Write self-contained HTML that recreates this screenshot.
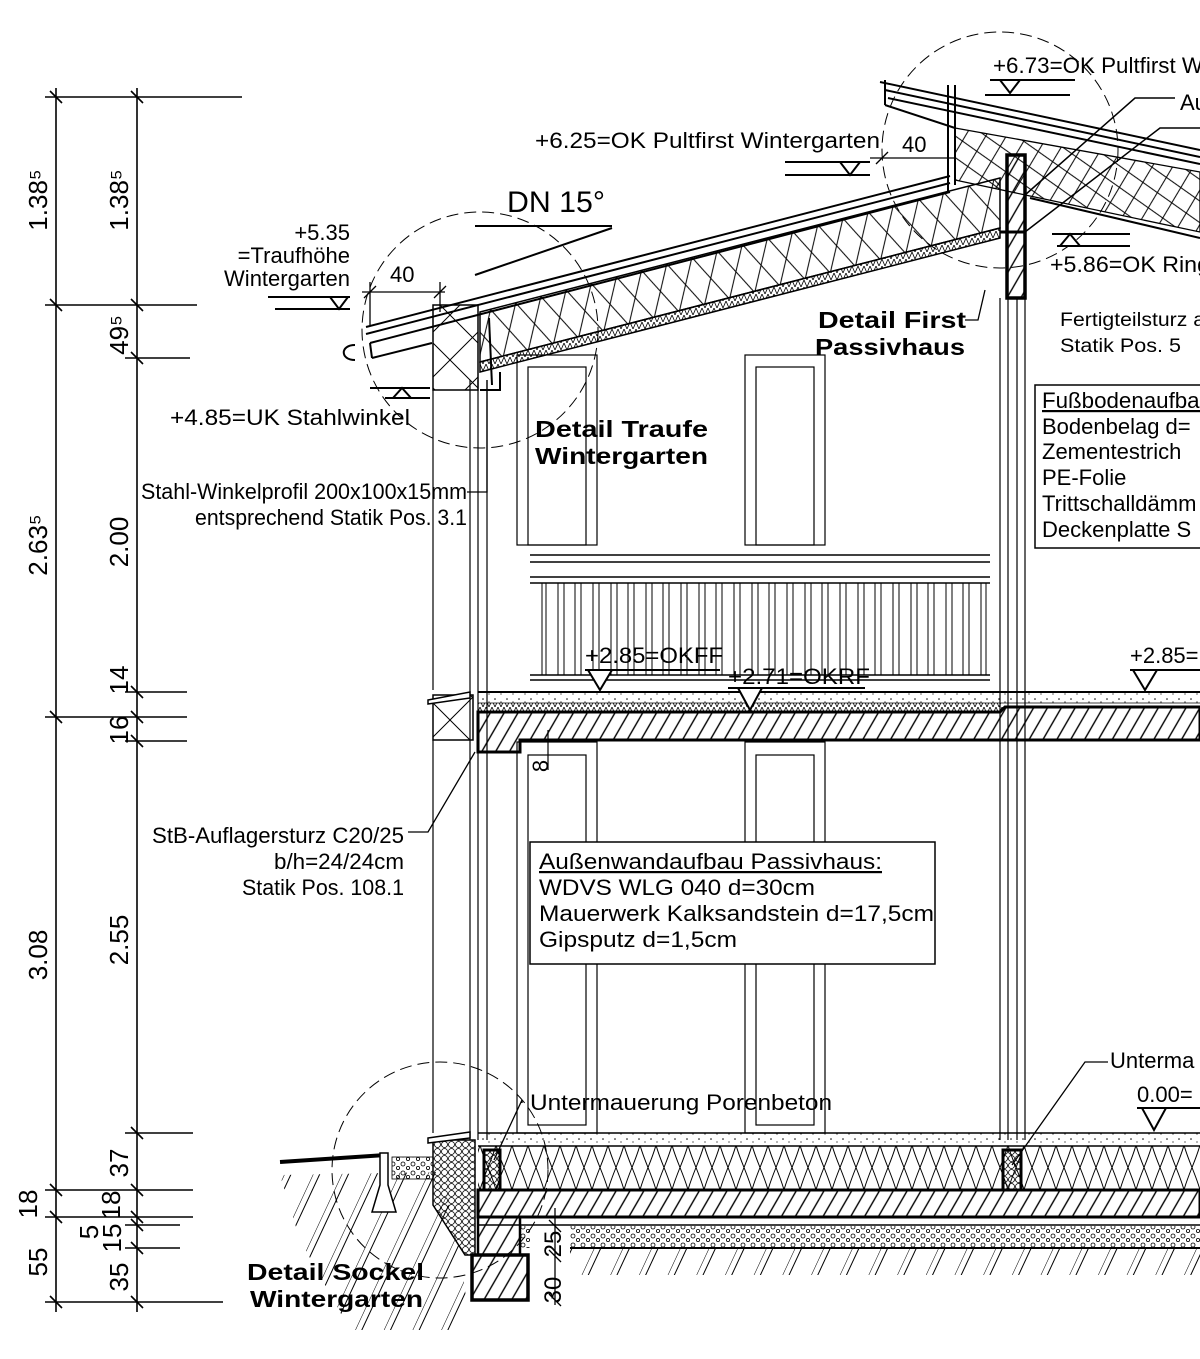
<!DOCTYPE html>
<html><head><meta charset="utf-8"><style>
html,body{margin:0;padding:0;background:#fff}
svg{display:block}
text{font-family:"Liberation Sans",sans-serif;fill:#000}
.n{font-family:"Liberation Sans Narrow","Liberation Sans",sans-serif}
.b{font-weight:bold}
</style></head><body>
<svg width="1200" height="1359" viewBox="0 0 1200 1359" xmlns="http://www.w3.org/2000/svg">
<defs>
<pattern id="hatch" width="12" height="12" patternUnits="userSpaceOnUse" patternTransform="rotate(30)">
<line x1="1" y1="0" x2="1" y2="12" stroke="#000" stroke-width="1.4"/></pattern>
<pattern id="ins" width="26" height="50" patternUnits="userSpaceOnUse" patternTransform="translate(0,178) rotate(-14.5)">
<path d="M0,0 C6,12 20,38 26,50 M26,0 C20,12 6,38 0,50" stroke="#000" stroke-width="1" fill="none"/></pattern>
<pattern id="ins2" width="24" height="26" patternUnits="userSpaceOnUse" patternTransform="rotate(-12)">
<path d="M0,0 L24,26 M24,0 L0,26" stroke="#000" stroke-width="1" fill="none"/></pattern>
<pattern id="insG" x="0" y="1145" width="16" height="45" patternUnits="userSpaceOnUse">
<path d="M0,0 C4,15 12,30 16,45 M16,0 C12,15 4,30 0,45" stroke="#000" stroke-width="1" fill="none"/></pattern>
<pattern id="insX" width="45" height="45" patternUnits="userSpaceOnUse">
<path d="M0,0 L45,45 M45,0 L0,45" stroke="#000" stroke-width="1" fill="none"/></pattern>
<pattern id="dots" width="12" height="8" patternUnits="userSpaceOnUse">
<circle cx="3" cy="3" r="0.8" fill="#000"/><circle cx="9" cy="6" r="0.6" fill="#000"/></pattern>
<pattern id="grav" width="10" height="9" patternUnits="userSpaceOnUse">
<circle cx="3" cy="3" r="2" fill="none" stroke="#000" stroke-width="0.8"/><circle cx="8" cy="7" r="1.6" fill="none" stroke="#000" stroke-width="0.8"/></pattern>
<pattern id="hex" width="7" height="7" patternUnits="userSpaceOnUse">
<circle cx="3.5" cy="3.5" r="3" fill="none" stroke="#000" stroke-width="0.8"/></pattern>
<pattern id="zig" width="6" height="7" patternUnits="userSpaceOnUse">
<path d="M0,0 L3,7 L6,0" stroke="#000" stroke-width="0.8" fill="none"/></pattern>
<pattern id="earth" width="26" height="26" patternUnits="userSpaceOnUse" patternTransform="rotate(25)">
<line x1="0" y1="0" x2="0" y2="26" stroke="#000" stroke-width="1"/><line x1="6" y1="0" x2="6" y2="26" stroke="#000" stroke-width="1"/></pattern>
</defs>

<!-- Left dimension chains -->
<g stroke="#000" stroke-width="1.6" fill="none">
<line x1="56" y1="88" x2="56" y2="1312"/><line x1="137" y1="88" x2="137" y2="1312"/>
<line x1="45" y1="97" x2="242" y2="97"/>
<line x1="45" y1="305" x2="197" y2="305"/>
<line x1="125" y1="358" x2="190" y2="358"/>
<line x1="125" y1="692" x2="187" y2="692"/>
<line x1="45" y1="717" x2="187" y2="717"/>
<line x1="125" y1="741" x2="187" y2="741"/>
<line x1="125" y1="1133" x2="193" y2="1133"/>
<line x1="45" y1="1190" x2="193" y2="1190"/>
<line x1="45" y1="1217" x2="193" y2="1217"/>
<line x1="125" y1="1225" x2="180" y2="1225"/>
<line x1="125" y1="1248" x2="180" y2="1248"/>
<line x1="45" y1="1302" x2="223" y2="1302"/>
</g>
<g stroke="#000" stroke-width="1.6">
<path d="M50,91 l12,12 M131,91 l12,12 M50,299 l12,12 M131,299 l12,12 M131,352 l12,12 M131,686 l12,12 M50,711 l12,12 M131,711 l12,12 M131,735 l12,12 M131,1127 l12,12 M50,1184 l12,12 M131,1184 l12,12 M50,1211 l12,12 M131,1211 l12,12 M131,1219 l12,12 M131,1242 l12,12 M50,1296 l12,12 M131,1296 l12,12"/>
</g>
<g class="n" font-size="26">
<text transform="translate(47,200) rotate(-90)" text-anchor="middle">1.38⁵</text>
<text transform="translate(128,200) rotate(-90)" text-anchor="middle">1.38⁵</text>
<text transform="translate(128,335) rotate(-90)" text-anchor="middle">49⁵</text>
<text transform="translate(47,545) rotate(-90)" text-anchor="middle">2.63⁵</text>
<text transform="translate(128,542) rotate(-90)" text-anchor="middle">2.00</text>
<text transform="translate(128,680) rotate(-90)" text-anchor="middle">14</text>
<text transform="translate(128,730) rotate(-90)" text-anchor="middle">16</text>
<text transform="translate(47,955) rotate(-90)" text-anchor="middle">3.08</text>
<text transform="translate(128,940) rotate(-90)" text-anchor="middle">2.55</text>
<text transform="translate(128,1163) rotate(-90)" text-anchor="middle">37</text>
<text transform="translate(37,1204) rotate(-90)" text-anchor="middle">18</text>
<text transform="translate(120,1205) rotate(-90)" text-anchor="middle">18</text>
<text transform="translate(98,1232) rotate(-90)" text-anchor="middle">5</text>
<text transform="translate(121,1238) rotate(-90)" text-anchor="middle">15</text>
<text transform="translate(47,1262) rotate(-90)" text-anchor="middle">55</text>
<text transform="translate(128,1277) rotate(-90)" text-anchor="middle">35</text>
</g>

<!-- Dashed detail circles -->
<g stroke="#000" stroke-width="1" fill="none" stroke-dasharray="12,6">
<circle cx="480" cy="330" r="118"/>
<circle cx="1000" cy="150" r="118"/>
<circle cx="440" cy="1170" r="108"/>
</g>

<!-- Wintergarten wall posts -->
<g stroke="#000" stroke-width="1.2" fill="none">
<line x1="433" y1="390" x2="433" y2="690"/>
<line x1="433" y1="740" x2="433" y2="1133"/>
<line x1="470" y1="380" x2="470" y2="1140"/>
<line x1="478" y1="380" x2="478" y2="1140"/>
<line x1="487" y1="380" x2="487" y2="1140"/>
<line x1="1000" y1="298" x2="1000" y2="1140"/>
<line x1="1008" y1="298" x2="1008" y2="1140"/>
<line x1="1017" y1="298" x2="1017" y2="1140"/>
<line x1="1025" y1="298" x2="1025" y2="1140"/>
</g>
<rect x="433" y="305" width="45" height="85" fill="url(#insX)" stroke="#000" stroke-width="1.5"/>
<rect x="433" y="695" width="40" height="45" fill="url(#insX)" stroke="#000" stroke-width="1.5"/>
<path d="M428,700 L470,692 L470,698 L428,704 Z" fill="#fff" stroke="#000" stroke-width="1.5"/>

<!-- Windows -->
<g stroke="#000" stroke-width="1.2" fill="none">
<rect x="517" y="355" width="80" height="190"/><rect x="528" y="367" width="58" height="178"/>
<rect x="745" y="355" width="80" height="190"/><rect x="756" y="367" width="58" height="178"/>
<rect x="517" y="742" width="80" height="391"/><rect x="528" y="755" width="58" height="370"/>
<rect x="745" y="742" width="80" height="391"/><rect x="756" y="755" width="58" height="370"/>
</g>
<!-- Railing -->
<rect x="512" y="548" width="480" height="130" fill="#fff"/>
<g stroke="#000" stroke-width="1.4">
<line x1="530" y1="555" x2="990" y2="555"/><line x1="530" y1="562" x2="990" y2="562"/>
<line x1="530" y1="577" x2="990" y2="577"/><line x1="530" y1="583" x2="990" y2="583"/>
<line x1="530" y1="675" x2="990" y2="675"/><line x1="530" y1="680" x2="990" y2="680"/>
</g>
<g stroke="#000" stroke-width="1">
<path d="M542,583v92M546,583v92M558,583v92M564,583v92M575,583v92M581,583v92M593,583v92M599,583v92M611,583v92M617,583v92M628,583v92M634,583v92M646,583v92M652,583v92M663,583v92M669,583v92M681,583v92M687,583v92M699,583v92M705,583v92M716,583v92M722,583v92M734,583v92M740,583v92M752,583v92M758,583v92M769,583v92M775,583v92M787,583v92M793,583v92M805,583v92M811,583v92M822,583v92M828,583v92M840,583v92M846,583v92M858,583v92M864,583v92M875,583v92M881,583v92M893,583v92M899,583v92M911,583v92M917,583v92M928,583v92M934,583v92M946,583v92M952,583v92M963,583v92M969,583v92M981,583v92M986,583v92"/>
</g>

<!-- Upper floor slab -->
<rect x="478" y="692" width="722" height="11" fill="url(#dots)"/>
<rect x="478" y="703" width="525" height="8" fill="url(#zig)"/>
<path d="M478,712 L1000,712 L1005,707 L1200,707 L1200,740 L520,740 L520,752 L478,752 Z" fill="url(#hatch)" stroke="#000" stroke-width="3"/>
<line x1="478" y1="692" x2="1200" y2="692" stroke="#000" stroke-width="2"/>
<line x1="478" y1="703" x2="1200" y2="703" stroke="#000" stroke-width="0.8"/>

<!-- Ground floor -->
<rect x="478" y="1133" width="722" height="13" fill="url(#dots)"/>
<line x1="478" y1="1133" x2="1200" y2="1133" stroke="#000" stroke-width="1.5"/>
<line x1="478" y1="1146" x2="1200" y2="1146" stroke="#000" stroke-width="1.5"/>
<rect x="478" y="1146" width="722" height="44" fill="url(#insG)"/>
<rect x="484" y="1150" width="16" height="40" fill="url(#hex)" stroke="#000" stroke-width="3"/>
<rect x="1003" y="1150" width="18" height="40" fill="url(#hex)" stroke="#000" stroke-width="3"/>
<path d="M478,1190 L1200,1190 L1200,1217 L478,1217 Z" fill="url(#hatch)" stroke="#000" stroke-width="3"/>
<line x1="478" y1="1225" x2="1200" y2="1225" stroke="#000" stroke-width="1.5"/>
<rect x="570" y="1226" width="630" height="22" fill="url(#grav)"/>
<rect x="520" y="1226" width="10" height="22" fill="url(#grav)"/>
<line x1="570" y1="1248" x2="1200" y2="1248" stroke="#000" stroke-width="2"/>
<rect x="570" y="1249" width="630" height="26" fill="url(#earth)"/>
<path d="M478,1217 L520,1217 L520,1255 L478,1255 Z" fill="url(#hatch)" stroke="#000" stroke-width="2.5"/>
<path d="M472,1255 L528,1255 L528,1300 L472,1300 Z" fill="url(#hatch)" stroke="#000" stroke-width="3.5"/>
<path d="M433,1140 L475,1140 L475,1255 L465,1255 L433,1205 Z" fill="url(#hex)" stroke="#000" stroke-width="1.5"/>
<path d="M428,1138 L470,1132 L470,1138 L428,1143 Z" fill="#fff" stroke="#000" stroke-width="1.5"/>
<!-- Left ground -->
<path d="M280,1175 L440,1172 L460,1250 L470,1330 L350,1330 L300,1240 Z" fill="url(#earth)"/>
<line x1="280" y1="1162" x2="385" y2="1155" stroke="#000" stroke-width="4"/>
<rect x="392" y="1157" width="41" height="22" fill="url(#grav)" stroke="#000" stroke-width="0.8"/>
<path d="M380,1153 L388,1153 L388,1185 L396,1212 L372,1212 L380,1185 Z" fill="#fff" stroke="#000" stroke-width="1.5"/>
<!-- dims at foundation -->
<g stroke="#000" stroke-width="1.3">
<line x1="555" y1="1208" x2="555" y2="1305"/>
<path d="M549,1220 l12,12 M549,1250 l12,12 M549,1294 l12,12"/>
</g>
<text class="n" font-size="24" transform="translate(561,1244) rotate(-90)" text-anchor="middle">25</text>
<text class="n" font-size="24" transform="translate(561,1290) rotate(-90)" text-anchor="middle">30</text>
<text class="n" font-size="22" transform="translate(548,766) rotate(-90)" text-anchor="middle">8</text>
<line x1="548" y1="730" x2="548" y2="770" stroke="#000" stroke-width="1.2"/>

<!-- WG roof: T(x)=327-0.259(x-366) -->
<!-- insulation T+15..T+65 from x=480 to 1000 -->
<path d="M480,312 L1000,178 L1000,228 L480,362 Z" fill="url(#ins)" stroke="#000" stroke-width="1.5"/>
<path d="M480,362 L1000,228 L1000,238 L480,372 Z" fill="url(#zig)" stroke="#000" stroke-width="1.5"/>
<g stroke="#000" stroke-width="2" fill="none">
<line x1="366" y1="327" x2="950" y2="176"/>
<line x1="366" y1="334" x2="950" y2="183"/>
<line x1="370" y1="343" x2="950" y2="192"/>
<line x1="372" y1="358" x2="432" y2="343"/>
<line x1="370" y1="343" x2="372" y2="358"/>
<line x1="948" y1="85" x2="948" y2="192"/>
<line x1="955" y1="85" x2="955" y2="185"/>
<path d="M355,345 c-15,0 -15,15 0,15"/>
<path d="M480,390 L500,390 L500,372"/>
<line x1="489" y1="318" x2="492" y2="385"/>
</g>
<!-- Upper PH roof -->
<path d="M955,128 L1200,172 L1200,232 L1030,196 L955,180 Z" fill="url(#ins2)" stroke="#000" stroke-width="1.3"/>
<g stroke="#000" stroke-width="2" fill="none">
<line x1="880" y1="82" x2="1200" y2="150"/>
<line x1="885" y1="90" x2="1200" y2="157"/>
<line x1="888" y1="98" x2="1200" y2="164"/>
<line x1="885" y1="80" x2="885" y2="105"/>
<line x1="885" y1="105" x2="955" y2="128"/>
<line x1="1030" y1="198" x2="1200" y2="238"/>
</g>
<rect x="1007" y="155" width="18" height="143" fill="url(#hatch)" stroke="#000" stroke-width="3.5"/>
<line x1="1000" y1="232" x2="1025" y2="232" stroke="#000" stroke-width="3"/>
<g stroke="#000" stroke-width="1.5" fill="none">
<polyline points="1025,195 1135,98 1175,98"/>
<polyline points="1025,232 1160,128 1200,128"/>
</g>

<!-- Level markers -->
<g stroke="#000" stroke-width="2" fill="#fff">
<line x1="990" y1="80" x2="1075" y2="80"/><line x1="985" y1="95" x2="1070" y2="95"/><path d="M1000,80 L1020,80 L1010,93 Z"/>
<line x1="785" y1="162" x2="870" y2="162"/><line x1="785" y1="175" x2="870" y2="175"/><path d="M840,162 L860,162 L850,175 Z"/>
<line x1="1052" y1="234" x2="1130" y2="234"/><line x1="1057" y1="246" x2="1130" y2="246"/><path d="M1060,246 L1080,246 L1070,234 Z"/>
<line x1="268" y1="297" x2="350" y2="297"/><line x1="275" y1="309" x2="350" y2="309"/><path d="M330,297 L348,297 L339,309 Z"/>
<line x1="370" y1="388" x2="430" y2="388"/><line x1="385" y1="398" x2="430" y2="398"/><path d="M393,398 L411,398 L402,388 Z"/>
<line x1="475" y1="226" x2="612" y2="226"/><line x1="475" y1="275" x2="612" y2="228"/>
<line x1="585" y1="670" x2="720" y2="670"/><path d="M588,670 L612,670 L600,690 Z"/>
<line x1="728" y1="688" x2="865" y2="688"/><path d="M738,688 L762,688 L750,710 Z"/>
<line x1="1130" y1="670" x2="1200" y2="670"/><path d="M1133,670 L1157,670 L1145,690 Z"/>
<line x1="1137" y1="1108" x2="1200" y2="1108"/><path d="M1142,1108 L1166,1108 L1154,1130 Z"/>
</g>
<!-- 40 dims -->
<g stroke="#000" stroke-width="1.3" fill="none">
<line x1="362" y1="292" x2="445" y2="292"/><line x1="370" y1="282" x2="370" y2="325"/><line x1="440" y1="282" x2="440" y2="312"/>
<path d="M364,298 l12,-12 M434,298 l12,-12"/>
<line x1="870" y1="158" x2="955" y2="158"/><path d="M876,164 l12,-12"/>
</g>
<text class="n" font-size="22" x="390" y="282">40</text>
<text class="n" font-size="22" x="902" y="152">40</text>

<!-- Leaders -->
<g stroke="#000" stroke-width="1.3" fill="none">
<polyline points="467,492 487,492 487,380"/>
<polyline points="408,832 428,832 475,752"/>
<polyline points="522,1103 522,1100 494,1160"/>
<polyline points="1108,1062 1085,1062 1012,1165"/>
<polyline points="965,320 978,320 985,290"/>
</g>

<!-- Text boxes -->
<rect x="530" y="842" width="405" height="122" fill="#fff" stroke="#000" stroke-width="1.5"/>
<g font-size="22">
<text x="539" y="869" textLength="343" lengthAdjust="spacingAndGlyphs" text-decoration="underline">Außenwandaufbau Passivhaus:</text>
<text x="539" y="895" textLength="276" lengthAdjust="spacingAndGlyphs">WDVS WLG 040 d=30cm</text>
<text x="539" y="921" textLength="395" lengthAdjust="spacingAndGlyphs">Mauerwerk Kalksandstein d=17,5cm</text>
<text x="539" y="947" textLength="198" lengthAdjust="spacingAndGlyphs">Gipsputz d=1,5cm</text>
</g>
<rect x="1035" y="385" width="200" height="163" fill="#fff" stroke="#000" stroke-width="1.5"/>
<g font-size="22">
<text x="1042" y="408" textLength="170" lengthAdjust="spacingAndGlyphs" text-decoration="underline">Fußbodenaufbau</text>
<text x="1042" y="434">Bodenbelag d=</text>
<text x="1042" y="459">Zementestrich</text>
<text x="1042" y="485">PE-Folie</text>
<text x="1042" y="511">Trittschalldämm</text>
<text x="1042" y="537">Deckenplatte S</text>
</g>

<!-- Labels -->
<g font-size="22">
<text x="993" y="73" textLength="210" lengthAdjust="spacingAndGlyphs">+6.73=OK Pultfirst W</text>
<text x="1180" y="110">Au</text>
<text x="535" y="148" textLength="345" lengthAdjust="spacingAndGlyphs">+6.25=OK Pultfirst Wintergarten</text>
<text x="1050" y="272" textLength="160" lengthAdjust="spacingAndGlyphs">+5.86=OK Ring</text>
<text x="350" y="240" text-anchor="end">+5.35</text>
<text x="350" y="263" text-anchor="end">=Traufhöhe</text>
<text x="350" y="286" text-anchor="end">Wintergarten</text>
<text x="170" y="425" textLength="240" lengthAdjust="spacingAndGlyphs">+4.85=UK Stahlwinkel</text>
<text x="467" y="499" text-anchor="end" textLength="326" lengthAdjust="spacingAndGlyphs">Stahl-Winkelprofil 200x100x15mm</text>
<text x="467" y="525" text-anchor="end" textLength="272" lengthAdjust="spacingAndGlyphs">entsprechend Statik Pos. 3.1</text>
<text x="585" y="663" textLength="138" lengthAdjust="spacingAndGlyphs">+2.85=OKFF</text>
<text x="728" y="684" textLength="142" lengthAdjust="spacingAndGlyphs">+2.71=OKRF</text>
<text x="1130" y="663">+2.85=</text>
<text x="404" y="843" text-anchor="end" textLength="252" lengthAdjust="spacingAndGlyphs">StB-Auflagersturz C20/25</text>
<text x="404" y="869" text-anchor="end" textLength="130" lengthAdjust="spacingAndGlyphs">b/h=24/24cm</text>
<text x="404" y="895" text-anchor="end" textLength="162" lengthAdjust="spacingAndGlyphs">Statik Pos. 108.1</text>
<text x="530" y="1110" textLength="302" lengthAdjust="spacingAndGlyphs">Untermauerung Porenbeton</text>
<text x="1110" y="1068">Unterma</text>
<text x="1137" y="1102">0.00=</text>
</g>
<g font-size="19">
<text x="1060" y="326" textLength="145" lengthAdjust="spacingAndGlyphs">Fertigteilsturz a</text>
<text x="1060" y="352" textLength="121" lengthAdjust="spacingAndGlyphs">Statik Pos. 5</text>
</g>
<text x="507" y="212" font-size="30" class="n" textLength="98" lengthAdjust="spacingAndGlyphs">DN 15°</text>
<g font-size="23" class="b">
<text x="818" y="328" textLength="148" lengthAdjust="spacingAndGlyphs">Detail First</text>
<text x="815" y="355" textLength="150" lengthAdjust="spacingAndGlyphs">Passivhaus</text>
<text x="535" y="437" textLength="173" lengthAdjust="spacingAndGlyphs">Detail Traufe</text>
<text x="535" y="464" textLength="173" lengthAdjust="spacingAndGlyphs">Wintergarten</text>
<text x="247" y="1280" textLength="177" lengthAdjust="spacingAndGlyphs">Detail Sockel</text>
<text x="250" y="1307" textLength="173" lengthAdjust="spacingAndGlyphs">Wintergarten</text>
</g>
</svg>
</body></html>
